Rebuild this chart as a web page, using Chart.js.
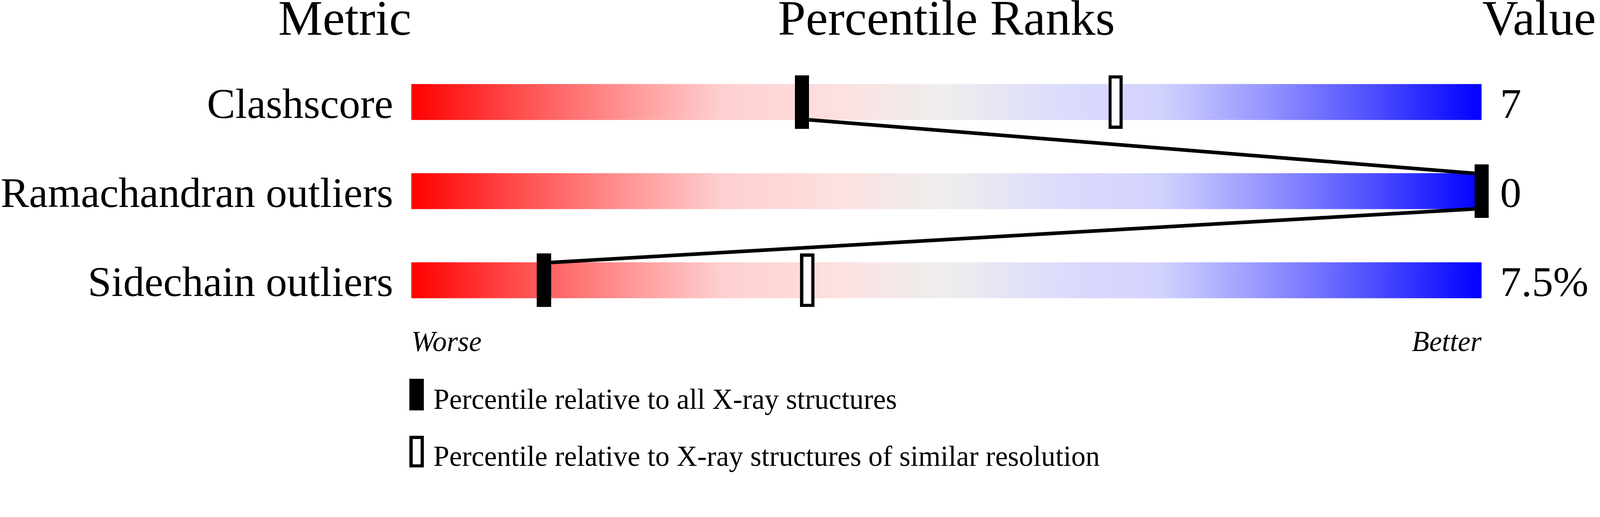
<!DOCTYPE html>
<html>
<head>
<meta charset="utf-8">
<script src="https://cdn.jsdelivr.net/npm/chart.js@4/dist/chart.umd.min.js"></script>
<style>
  html, body { margin: 0; padding: 0; background: #fff; overflow: hidden; }
  canvas { display: block; }
</style>
</head>
<body>
<canvas id="slider"></canvas>
<script>
// data
const metrics = ['Clashscore', 'Ramachandran outliers', 'Sidechain outliers'];
const valueLabels = ['7', '0', '7.5%'];
const pctAll = [36.5, 100, 12.4];       // percentile vs all X-ray structures
const pctSimilar = [65.8, null, 37];    // percentile vs similar resolution
const endLabels = ['Worse', 'Better'];
const headers = ['Metric', 'Percentile Ranks', 'Value'];
const legendLabels = [
    'Percentile relative to all X-ray structures',
    'Percentile relative to X-ray structures of similar resolution'
];

// everything is laid out on a 4485 x 1324 design and scaled to the window
const W = window.innerWidth || 4485;
const H = window.innerHeight || 1324;
const k = Math.min(W / 4485, H / 1324);
const px = (v) => v * k;

const FONT = '"Liberation Serif", "Times New Roman", serif';
const BAR_H = px(100);
const MARK_W = px(40);
const MARK_H = px(150);

// marker images used as point styles
function makeMarker(w, h, open) {
    const r = window.devicePixelRatio || 1;
    const c = document.createElement('canvas');
    c.width = Math.round(w * r); c.height = Math.round(h * r);
    c.style.width = w + 'px'; c.style.height = h + 'px';
    const g = c.getContext('2d');
    g.fillStyle = '#000';
    g.fillRect(0, 0, c.width, c.height);
    if (open) {
        const t = px(9) * r;
        g.fillStyle = '#fff';
        g.fillRect(t, t, c.width - 2 * t, c.height - 2 * t);
    }
    return c;
}

// draws a canvas marker at its css size, centred
function markerStyle(w, h, open) {
    const c = makeMarker(w, h, open);
    return { canvas: c, w: w, h: h };
}
const markFilled = markerStyle(MARK_W, MARK_H, false);
const markOpen = markerStyle(MARK_W, MARK_H, true);
const legFilled = markerStyle(MARK_W, px(89), false);
const legOpen = markerStyle(MARK_W, px(89), true);

function sliderGradient(ctx) {
    const chart = ctx.chart;
    const a = chart.chartArea;
    if (!a) return '#eee';
    const g = chart.ctx.createLinearGradient(a.left, 0, a.right, 0);
    g.addColorStop(0, '#ff0000');
    g.addColorStop(0.1, '#ff4d4d');
    g.addColorStop(0.2, '#ff9494');
    g.addColorStop(0.29, '#ffcfcf');
    g.addColorStop(0.4, '#fde0e0');
    g.addColorStop(0.5, '#eeeeee');
    g.addColorStop(0.6, '#dcdcfc');
    g.addColorStop(0.7, '#d2d2ff');
    g.addColorStop(0.8, '#9494ff');
    g.addColorStop(0.9, '#4d4dff');
    g.addColorStop(1, '#0000ff');
    return g;
}

function toPoints(list) {
    const pts = [];
    list.forEach((p, i) => { if (p != null) pts.push({ x: p, y: metrics[i] }); });
    return pts;
}

const sliderPlugin = {
    id: 'sliderPlugin',
    afterDatasetDraw(chart, args) {
        const x = chart.scales.x, y = chart.scales.y;
        const c = chart.ctx;
        if (args.index === 0) {
            // connector between the black markers, over the bars and under the markers
            c.save();
            c.strokeStyle = '#000';
            c.lineWidth = px(10);
            c.beginPath();
            for (let i = 0; i < pctAll.length - 1; i++) {
                const x1 = x.getPixelForValue(pctAll[i]);
                const x2 = x.getPixelForValue(pctAll[i + 1]);
                const dir = x2 >= x1 ? 1 : -1;
                const y1 = y.getPixelForValue(i) + BAR_H / 2;
                const y2 = y.getPixelForValue(i + 1) - BAR_H / 2;
                c.moveTo(x1 + dir * MARK_W / 2, y1);
                c.lineTo(x2 - dir * MARK_W / 2, y2);
            }
            c.stroke();
            c.restore();
            return;
        }
        // marker datasets: draw the marker image at each point element
        const m = args.index === 1 ? markOpen : markFilled;
        args.meta.data.forEach((pt) => {
            c.drawImage(m.canvas, pt.x - m.w / 2, pt.y - m.h / 2, m.w, m.h);
        });
    },
    afterDraw(chart) {
        const a = chart.chartArea;
        const c = chart.ctx;
        c.save();
        c.fillStyle = '#000';
        c.textBaseline = 'alphabetic';
        c.font = px(140) + 'px ' + FONT;
        c.textAlign = 'right';
        c.fillText(headers[0], a.left, px(97));
        c.textAlign = 'center';
        c.fillText(headers[1], (a.left + a.right) / 2, px(97));
        c.textAlign = 'left';
        c.fillText(headers[2], a.right + px(2), px(97));

        // legend
        c.font = px(80) + 'px ' + FONT;
        const imgs = [legFilled, legOpen];
        legendLabels.forEach((t, i) => {
            const top = px(1062 + i * 160);
            c.drawImage(imgs[i].canvas, a.left - px(5), top, imgs[i].w, imgs[i].h);
            c.fillText(t, a.left + px(62), top + px(84));
        });
        c.restore();
    }
};

const canvas = document.getElementById('slider');
canvas.width = W;
canvas.height = H;

const cfg = {
    type: 'bar',
    data: {
        labels: metrics,
        datasets: [{
            label: 'range',
            data: metrics.map(() => 100),
            backgroundColor: sliderGradient,
            borderWidth: 0,
            barThickness: BAR_H,
            order: 3
        }, {
            type: 'scatter',
            label: 'similar',
            data: toPoints(pctSimilar),
            pointRadius: 0.5,
            pointBackgroundColor: 'rgba(0,0,0,0)',
            pointBorderWidth: 0,
            clip: false,
            order: 2
        }, {
            type: 'scatter',
            label: 'all',
            data: toPoints(pctAll),
            pointRadius: 0.5,
            pointBackgroundColor: 'rgba(0,0,0,0)',
            pointBorderWidth: 0,
            clip: false,
            order: 1
        }]
    },
    options: {
        indexAxis: 'y',
        responsive: false,
        animation: false,
        layout: { padding: { top: px(161), left: 0, right: 0, bottom: 0 } },
        plugins: { legend: { display: false }, tooltip: { enabled: false } },
        scales: {
            x: {
                type: 'linear',
                min: 0,
                max: 100,
                grid: { display: false, drawTicks: false },
                border: { display: false },
                afterBuildTicks: (s) => { s.ticks = [{ value: 0 }, { value: 100 }]; },
                afterFit: (s) => { s.height = H - px(911); },
                ticks: {
                    align: 'inner',
                    autoSkip: false,
                    maxRotation: 0,
                    minRotation: 0,
                    padding: px(4),
                    color: '#000',
                    font: { family: FONT, size: px(80), style: 'italic' },
                    callback: (v) => v === 0 ? endLabels[0] : endLabels[1]
                }
            },
            y: {
                type: 'category',
                position: 'left',
                offset: true,
                grid: { display: false, drawTicks: false },
                border: { display: false },
                afterFit: (s) => { s.width = px(1153); },
                ticks: {
                    padding: px(51),
                    labelOffset: px(13),
                    autoSkip: false,
                    color: '#000',
                    font: { family: FONT, size: px(119) }
                }
            },
            y2: {
                type: 'category',
                position: 'right',
                labels: valueLabels,
                offset: true,
                grid: { display: false, drawTicks: false },
                border: { display: false },
                afterFit: (s) => { s.width = W - px(4153); },
                ticks: {
                    padding: px(52),
                    labelOffset: px(13),
                    autoSkip: false,
                    color: '#000',
                    font: { family: FONT, size: px(119) }
                }
            }
        }
    },
    plugins: [sliderPlugin]
};

new Chart(canvas, cfg);
</script>
</body>
</html>
